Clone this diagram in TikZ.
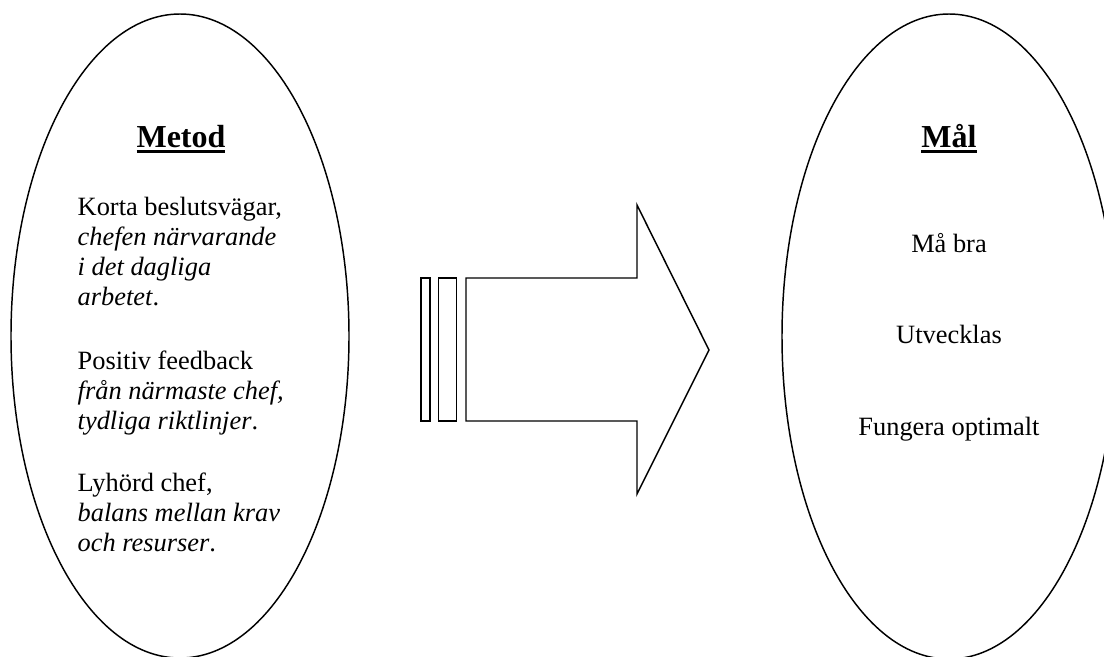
\documentclass[tikz,border=0pt]{standalone}
\usepackage{fontspec}
\setmainfont{Liberation Serif}
\newcommand{\thickul}[1]{\setbox0\hbox{#1}\rlap{\rule[-4.7pt]{\wd0}{2.8pt}}\box0}

\begin{document}
\begin{tikzpicture}[x=0.75pt,y=-0.75pt,line width=1.1pt,
  head/.style={font=\fontsize{24}{28}\selectfont\bfseries,anchor=base,inner sep=0pt},
  body/.style={font=\fontsize{19.8}{22.5}\selectfont,align=left,anchor=north west,inner sep=0pt},
  goal/.style={font=\fontsize{19.8}{22.5}\selectfont,anchor=base,inner sep=0pt}]
\clip (0,0) rectangle (1104,657);
% the two ovals
\draw (180,336) ellipse [x radius=169, y radius=322];
\draw (949,336.5) ellipse [x radius=167, y radius=322.5];
% Metod
\node[head] (metod) at (181,147) {\thickul{Metod}};
\node[body] (korta) at (77,196) {Korta beslutsvägar,\\ \textit{chefen närvarande}\\ \textit{i det dagliga}\\ \textit{arbetet}.};
\node[body] (positiv) at (77,350) {Positiv feedback\\ \textit{från närmaste chef,}\\ \textit{tydliga riktlinjer}.};
\node[body] (lyhord) at (77,472) {Lyhörd chef,\\ \textit{balans mellan krav}\\ \textit{och resurser}.};
% Mål
\node[head] (mal) at (949,147) {\thickul{Mål}};
\node[goal] (mabra) at (949,252) {Må bra};
\node[goal] (utveckl) at (949,343) {Utvecklas};
\node[goal] (fungera) at (949,435) {Fungera optimalt};
% striped arrow
\draw (421,278) rectangle (430,421);
\draw (438.5,278) rectangle (456.5,421);
\draw (466,278) -- (637,278) -- (637,205) -- (709,350) -- (637,494) -- (637,421) -- (466,421) -- cycle;
\end{tikzpicture}
\end{document}
